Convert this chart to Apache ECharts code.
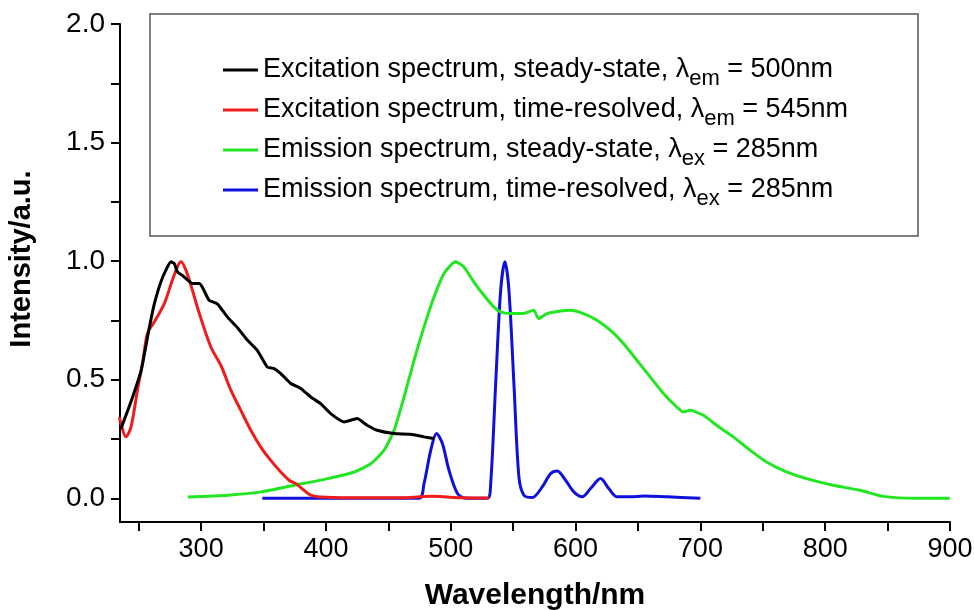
<!DOCTYPE html>
<html><head><meta charset="utf-8">
<script src="https://cdn.jsdelivr.net/npm/echarts@6/dist/echarts.min.js"></script>
<style>html,body{margin:0;padding:0;background:#fff}#c{width:974px;height:610px}</style>
</head><body><div id="c"></div>
<script>
const seriesNames = [
  'Excitation spectrum, steady-state, λem = 500nm',
  'Excitation spectrum, time-resolved, λem = 545nm',
  'Emission spectrum, steady-state, λex = 285nm',
  'Emission spectrum, time-resolved, λex = 285nm'
];
const seriesColors = ['#000000', '#f01c1c', '#22e622', '#1010dd'];

const exSteadyX = [235.8,244,252,258.5,262.5,269,275.8,278.5,281,285,293,298.5,301,306.4,313,321,329,337,345,353,358.5,363.8,371.8,379.8,387.8,395.8,403.8,414.5,425,433,441,454.5,467.8,478.5,486.5];
const exSteadyY = [0.294,0.41,0.54,0.72,0.82,0.93,0.997,0.99,0.955,0.94,0.906,0.906,0.89,0.835,0.82,0.765,0.72,0.667,0.624,0.554,0.547,0.526,0.484,0.463,0.427,0.399,0.357,0.322,0.336,0.308,0.287,0.273,0.27,0.259,0.252];

const exTimeX = [234.5,239.8,243.8,249,253,257,262.5,270.4,277,281,283.8,287.8,293,298.5,307.8,315.8,323.8,331.8,339.8,347.8,355.8,363.8,370.5,375.8,382.5,387.8,395.8,420,460,475,485,495,510,530.5];
const exTimeY = [0.343,0.259,0.30,0.456,0.568,0.695,0.744,0.82,0.92,0.976,0.997,0.962,0.878,0.78,0.638,0.561,0.456,0.371,0.287,0.216,0.160,0.111,0.076,0.062,0.034,0.013,0.005,0.002,0.002,0.006,0.009,0.006,0.002,0.001];

const emSteadyX = [289.4,321.4,348,374.6,401.4,422.7,436,446.6,454.6,462.6,470.6,478.6,486.6,494.6,503.8,510.4,518.4,526.4,534.4,539.8,547.8,558.4,566.4,570.4,577.1,587.8,595.8,606.4,617.1,627.8,638.4,649.1,659.8,670.4,681.1,686.4,691.8,702.4,713,726.4,739.8,753,769,785,806.4,827.8,846.4,873,899.8];
const emSteadyY = [0.005,0.013,0.027,0.055,0.083,0.111,0.146,0.203,0.287,0.427,0.582,0.723,0.849,0.948,0.997,0.976,0.913,0.857,0.807,0.786,0.779,0.779,0.793,0.758,0.779,0.79,0.793,0.779,0.751,0.709,0.653,0.582,0.512,0.442,0.385,0.364,0.371,0.35,0.308,0.259,0.203,0.153,0.111,0.083,0.055,0.034,0.008,0,0];

const emTimeX = [349,400,474.6,478.6,484,488.6,493.3,498.6,505.4,512,529.4,532,536,540,543.4,546.6,550.6,554.6,558.6,565.3,573.3,580,585.4,592,598.6,605.4,612,620,626.6,633.4,644,654.6,673.4,700];
const emTimeY = [0,0,0,0.062,0.203,0.273,0.231,0.118,0.02,0,0,0.062,0.484,0.878,0.997,0.878,0.484,0.09,0.013,0.003,0.048,0.104,0.115,0.076,0.027,0.006,0.041,0.083,0.041,0.006,0.006,0.01,0.006,0];

const xTickLabels = [300,400,500,600,700,800,900];
const xTickMarks = [250,300,350,400,450,500,550,600,650,700,750,800,850,900];
const yTickLabels = [0,0.5,1,1.5,2];
const yTickMarks = [0,0.25,0.5,0.75,1,1.25,1.5,1.75,2];

const allX = [exSteadyX, exTimeX, emSteadyX, emTimeX];
const allY = [exSteadyY, exTimeY, emSteadyY, emTimeY];
const smoothness = [0.15, 0.3, 0.2, 0.3];

const chart = echarts.init(document.getElementById('c'), null, {renderer:'canvas'});
const FONT = "'Liberation Sans', Arial, sans-serif";

chart.setOption({
  animation: false,
  backgroundColor: '#fff',
  grid: {left: 120, right: 24, top: 24, bottom: 88, containLabel: false, outerBoundsMode: 'none'},
  legend: {
    orient: 'vertical',
    left: 150, top: 14,
    padding: [36, 70, 26, 73],
    itemGap: 0,
    itemWidth: 35, itemHeight: 3,
    icon: 'rect',
    borderColor: '#555', borderWidth: 1.5,
    data: seriesNames,
    formatter: n => n.replace(/λ(em|ex)/, 'λ{sub|$1}'),
    textStyle: {
      fontSize: 27, lineHeight: 40, color: '#000', fontFamily: FONT,
      rich: {sub: {fontSize: 22, lineHeight: 20, verticalAlign: 'bottom', color: '#000', fontFamily: FONT}}
    }
  },
  xAxis: {
    type: 'value', min: 235, max: 900,
    axisLine: {show: true, onZero: false, lineStyle: {color: '#000', width: 2}},
    axisTick: {show: true, inside: false, length: 9, customValues: xTickMarks, lineStyle: {color: '#000', width: 2}},
    axisLabel: {customValues: xTickLabels, fontSize: 27, fontFamily: FONT, color: '#000', margin: 14},
    splitLine: {show: false},
    name: 'Wavelength/nm', nameLocation: 'middle', nameGap: 59,
    nameTextStyle: {fontSize: 30, fontWeight: 'bold', fontFamily: FONT, color: '#000'}
  },
  yAxis: {
    type: 'value', min: -0.1, max: 2,
    axisLine: {show: true, onZero: false, lineStyle: {color: '#000', width: 2}},
    axisTick: {show: true, inside: false, length: 9, customValues: yTickMarks, lineStyle: {color: '#000', width: 2}},
    axisLabel: {customValues: yTickLabels, formatter: v => Number(v).toFixed(1), fontSize: 28, fontFamily: FONT, color: '#000', margin: 15},
    splitLine: {show: false},
    name: 'Intensity/a.u.', nameLocation: 'middle', nameGap: 84, nameRotate: 90,
    nameTextStyle: {fontSize: 29, fontWeight: 'bold', fontFamily: FONT, color: '#000', padding: [0, 0, 0, 28]}
  },
  series: seriesNames.map((name, i) => ({
    name: name,
    type: 'line',
    data: allX[i].map((x, k) => [x, allY[i][k]]),
    showSymbol: false, symbol: 'none',
    smooth: smoothness[i],
    color: seriesColors[i],
    lineStyle: {width: 3, color: seriesColors[i]},
    z: 10 - i
  }))
});
</script>
</body></html>
